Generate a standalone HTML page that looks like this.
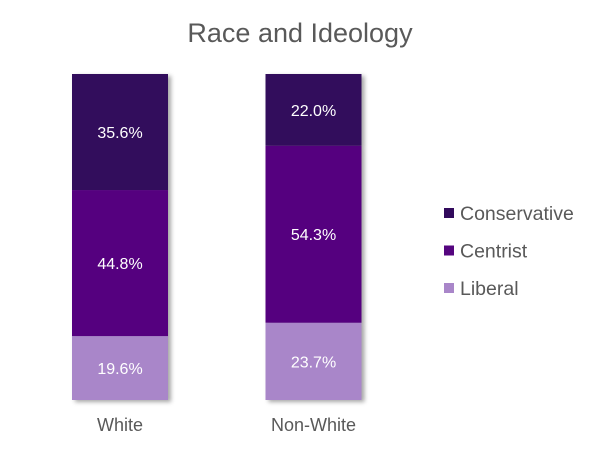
<!DOCTYPE html>
<html><head><meta charset="utf-8">
<style>
body{margin:0;width:600px;height:452px;background:#fff;overflow:hidden;font-family:"Liberation Sans",sans-serif}
</style></head>
<body>
<svg id="chart" width="600" height="452" xmlns="http://www.w3.org/2000/svg">
<defs><filter id="sh" x="-10%" y="-5%" width="130%" height="115%"><feDropShadow dx="3" dy="2" stdDeviation="2" flood-color="#000" flood-opacity="0.35"/></filter></defs>
<text x="300" y="42" text-anchor="middle" font-size="27" fill="#595959">Race and Ideology</text>
<g id="bars"></g>
<g id="legend"></g>
</svg>
<script>
const categories = ["White", "Non-White"];
const seriesNames = ["Liberal", "Centrist", "Conservative"];
const liberal = [19.6, 23.7];
const centrist = [44.8, 54.3];
const conservative = [35.6, 22.0];
const colors = ["#a986c9", "#55057f", "#320a5c"];
const series = [liberal, centrist, conservative];
const ns = "http://www.w3.org/2000/svg";
const plotTop = 74, plotBottom = 400, barW = 96;
const xCenter = i => 120 + i * 193.5;
const y = v => plotBottom - v / 100 * (plotBottom - plotTop);
const bars = document.getElementById('bars');
categories.forEach((c, i) => {
  const g = document.createElementNS(ns, 'g');
  g.setAttribute('filter', 'url(#sh)');
  
  
  bars.appendChild(g);
  let cum = 0;
  series.forEach((s, k) => {
    const v = s[i];
    const y0 = y(cum + v), y1 = y(cum);
    const r = document.createElementNS(ns, 'rect');
    r.setAttribute('x', xCenter(i) - barW / 2);
    r.setAttribute('y', y0);
    r.setAttribute('width', barW);
    r.setAttribute('height', y1 - y0);
    r.setAttribute('fill', colors[k]);
    
    
    g.appendChild(r);
    const t = document.createElementNS(ns, 'text');
    t.setAttribute('x', xCenter(i));
    t.setAttribute('y', (y0 + y1) / 2 + 6);
    t.setAttribute('text-anchor', 'middle');
    t.setAttribute('font-size', '16');
    t.setAttribute('fill', '#fff');
    
    
    t.textContent = v.toFixed(1) + '%';
    bars.appendChild(t);
    cum += v;
  });
  const lab = document.createElementNS(ns, 'text');
  lab.setAttribute('x', xCenter(i));
  lab.setAttribute('y', 431);
  lab.setAttribute('text-anchor', 'middle');
  lab.setAttribute('font-size', '18');
  lab.setAttribute('fill', '#595959');
  
  
  lab.textContent = c;
  bars.appendChild(lab);
});
const legend = document.getElementById('legend');
[2, 1, 0].forEach((k, j) => {
  const yy = 213 + j * 37.5;
  const g = document.createElementNS(ns, 'g');
  
  
  legend.appendChild(g);
  const r = document.createElementNS(ns, 'rect');
  r.setAttribute('x', 444); r.setAttribute('y', yy - 5);
  r.setAttribute('width', 10); r.setAttribute('height', 10);
  r.setAttribute('fill', colors[k]);
  g.appendChild(r);
  const t = document.createElementNS(ns, 'text');
  t.setAttribute('x', 460); t.setAttribute('y', yy + 7);
  t.setAttribute('font-size', '19.5'); t.setAttribute('fill', '#595959');
  t.textContent = seriesNames[k];
  g.appendChild(t);
});
</script>
</body></html>
